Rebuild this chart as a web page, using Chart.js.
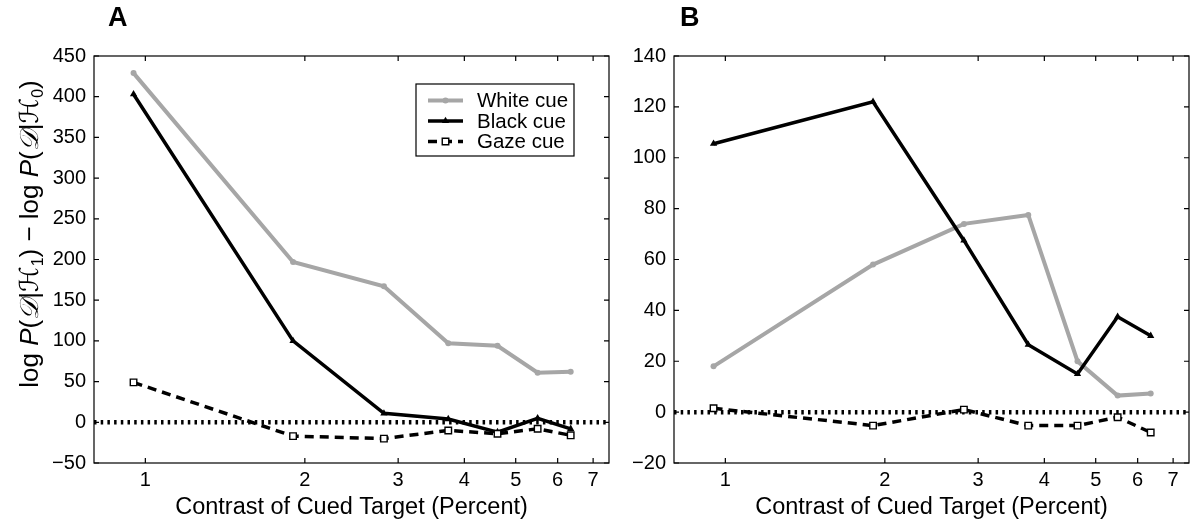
<!DOCTYPE html>
<html>
<head>
<meta charset="utf-8">
<script src="https://cdn.jsdelivr.net/npm/chart.js@4.4.0/dist/chart.umd.min.js"></script>
<style>
  html, body { margin: 0; padding: 0; background: #fff; }
  #wrap { position: relative; width: 1200px; height: 525px; overflow: hidden; }
  canvas { position: absolute; top: 0; }
  #chartA { left: 0; }
  #chartB { left: 615px; }
  .letter { position: absolute; top: 2px; font: bold 27px "Liberation Sans", Arial, sans-serif; color: #000; }
</style>
</head>
<body>
<div id="wrap">
  <canvas id="chartA" width="615" height="525"></canvas>
  <canvas id="chartB" width="585" height="525"></canvas>
  <div class="letter" style="left:108px">A</div>
  <div class="letter" style="left:680px">B</div>
</div>
<script>
// contrast levels (percent), shared by both panels
const contrast = [0.95, 1.9, 2.82, 3.73, 4.62, 5.5, 6.35];
const xTicks = [1, 2, 3, 4, 5, 6, 7];
const xMin = 0.8, xMax = 7.5;

// panel A
const whiteA = [429, 197, 167, 97, 94, 61, 62];
const blackA = [403, 100, 11, 4, -12, 5, -8];
const gazeA = [49, -17, -20, -10, -14, -8, -16];

// panel B
const whiteB = [18, 58, 74, 77.5, 20, 6.5, 7.3];
const blackB = [105.5, 122, 67.5, 26.5, 15, 37.5, 30];
const gazeB = [1.5, -5.3, 1, -5.3, -5.3, -2, -8];

const seriesNames = ['White cue', 'Black cue', 'Gaze cue'];
const xTitle = 'Contrast of Cued Target (Percent)';

const FONT = '"Liberation Sans", Arial, Helvetica, sans-serif';
const GRAY = '#a6a6a6';

function pairs(ys) {
    return contrast.map((c, i) => ({ x: c, y: ys[i] }));
}

function makeDatasets(white, black, gaze) {
    return [{
        label: seriesNames[0],
        data: pairs(white),
        borderColor: GRAY,
        backgroundColor: GRAY,
        borderWidth: 4,
        pointStyle: 'circle',
        pointRadius: 3,
        pointBorderWidth: 0,
        order: 3
    }, {
        label: seriesNames[1],
        data: pairs(black),
        borderColor: '#000',
        backgroundColor: '#000',
        borderWidth: 3.5,
        pointStyle: 'triangle',
        pointRadius: 4.2,
        pointBorderWidth: 0,
        order: 2
    }, {
        label: seriesNames[2],
        data: pairs(gaze),
        borderColor: '#000',
        backgroundColor: '#fff',
        borderWidth: 3.5,
        borderDash: [9, 6],
        pointStyle: 'rect',
        pointRadius: 4.6,
        pointBorderWidth: 1.4,
        order: 1
    }, {
        label: 'zero',
        data: [{ x: xMin, y: 0 }, { x: xMax, y: 0 }],
        borderColor: '#000',
        borderWidth: 4.5,
        borderDash: [2.5, 4.2],
        pointRadius: 0,
        order: 4
    }];
}

function makeScales(yMin, yMax, yStep, yWidth) {
    return {
        x: {
            type: 'logarithmic',
            min: xMin,
            max: xMax,
            afterBuildTicks: s => { s.ticks = xTicks.map(v => ({ value: v })); },
            afterFit: s => { s.height = 62; },
            grid: { display: false, drawTicks: false },
            border: { display: false },
            ticks: {
                autoSkip: false, maxRotation: 0, padding: 5, color: '#000',
                font: { family: FONT, size: 20 },
                callback: v => String(v)
            },
            title: {
                display: true, text: xTitle, color: '#000',
                font: { family: FONT, size: 23.5 },
                padding: { top: 0, bottom: 3 }
            }
        },
        y: {
            min: yMin,
            max: yMax,
            afterFit: s => { s.width = yWidth; },
            grid: { display: false, drawTicks: false },
            border: { display: false },
            ticks: {
                stepSize: yStep, padding: 8, color: '#000',
                font: { family: FONT, size: 20 },
                callback: v => v < 0 ? '\u2212' + Math.abs(v) : String(v)
            }
        }
    };
}

// box round the plot with inward ticks on all four sides
const framePlugin = {
    id: 'frame',
    afterDraw(chart) {
        const { ctx, chartArea: a, scales: { x, y } } = chart;
        const len = 5;
        ctx.save();
        ctx.strokeStyle = '#000';
        ctx.lineWidth = 1.2;
        ctx.strokeRect(a.left, a.top, a.right - a.left, a.bottom - a.top);
        ctx.beginPath();
        x.ticks.forEach(t => {
            const px = x.getPixelForValue(t.value);
            ctx.moveTo(px, a.bottom); ctx.lineTo(px, a.bottom - len);
            ctx.moveTo(px, a.top); ctx.lineTo(px, a.top + len);
        });
        y.ticks.forEach(t => {
            const py = y.getPixelForValue(t.value);
            ctx.moveTo(a.left, py); ctx.lineTo(a.left + len, py);
            ctx.moveTo(a.right, py); ctx.lineTo(a.right - len, py);
        });
        ctx.stroke();
        ctx.restore();
    }
};

// boxed legend inside panel A
const legendPlugin = {
    id: 'boxLegend',
    afterDraw(chart) {
        const { ctx, chartArea: a } = chart;
        const box = { left: a.right - 193, top: a.top + 28, w: 158, h: 72 };
        ctx.save();
        ctx.fillStyle = '#fff';
        ctx.fillRect(box.left, box.top, box.w, box.h);
        ctx.strokeStyle = '#000';
        ctx.lineWidth = 1.2;
        ctx.strokeRect(box.left, box.top, box.w, box.h);
        chart.data.datasets.slice(0, 3).forEach((ds, i) => {
            const yy = box.top + 16.5 + i * 20.5;
            const x0 = box.left + 12, x1 = box.left + 47;
            ctx.strokeStyle = ds.borderColor;
            ctx.lineWidth = ds.borderWidth;
            ctx.setLineDash(ds.borderDash || []);
            ctx.beginPath();
            ctx.moveTo(x0, yy); ctx.lineTo(x1, yy);
            ctx.stroke();
            ctx.setLineDash([]);
            ctx.fillStyle = ds.backgroundColor;
            ctx.strokeStyle = ds.borderColor;
            ctx.lineWidth = ds.pointBorderWidth || 0.01;
            Chart.helpers.drawPoint(ctx, {
                pointStyle: ds.pointStyle, radius: ds.pointRadius, rotation: 0, borderWidth: ds.pointBorderWidth
            }, (x0 + x1) / 2, yy);
            ctx.fillStyle = '#000';
            ctx.font = '20.5px ' + FONT;
            ctx.textBaseline = 'middle';
            ctx.fillText(ds.label, box.left + 61, yy + 1);
        });
        ctx.restore();
    }
};

// y axis title with italic P, script letters and subscripts
const yTitlePlugin = {
    id: 'yTitle',
    afterDraw(chart) {
        const ctx = chart.ctx;
        const n = '26px ' + FONT;
        const it = 'italic 26px ' + FONT;
        const sc = 'italic 26px "DejaVu Serif", "DejaVu Sans", serif';
        const sub = '16px ' + FONT;
        const half = [['P', it, 0], ['(', n, 0], ['\uD835\uDC9F', sc, 0], ['|', n, 0], ['\u210B', sc, 0]];
        const parts = [['log ', n, 0]].concat(half, [['1', sub, 5], [')', n, 0], [' \u2212 log ', n, 0]],
            half, [['0', sub, 5], [')', n, 0]]);
        ctx.save();
        ctx.fillStyle = '#000';
        ctx.textBaseline = 'alphabetic';
        let total = 0;
        parts.forEach(p => { ctx.font = p[1]; total += ctx.measureText(p[0]).width; });
        ctx.translate(38, 234);
        ctx.rotate(-Math.PI / 2);
        let xx = -total / 2;
        parts.forEach(p => {
            ctx.font = p[1];
            ctx.fillText(p[0], xx, p[2]);
            xx += ctx.measureText(p[0]).width;
        });
        ctx.restore();
    }
};

function makeChart(id, white, black, gaze, yMin, yMax, yStep, yWidth, padRight, extra) {
    return new Chart(document.getElementById(id), {
        type: 'line',
        data: { datasets: makeDatasets(white, black, gaze) },
        options: {
            responsive: false,
            animation: false,
            layout: { padding: { top: 56, right: padRight, left: 0, bottom: 0 } },
            plugins: { legend: { display: false }, tooltip: { enabled: false } },
            elements: { line: { tension: 0 } },
            scales: makeScales(yMin, yMax, yStep, yWidth)
        },
        plugins: [framePlugin].concat(extra)
    });
}

makeChart('chartA', whiteA, blackA, gazeA, -50, 450, 50, 94, 6, [legendPlugin, yTitlePlugin]);
makeChart('chartB', whiteB, blackB, gazeB, -20, 140, 20, 59, 11, []);
</script>
</body>
</html>
